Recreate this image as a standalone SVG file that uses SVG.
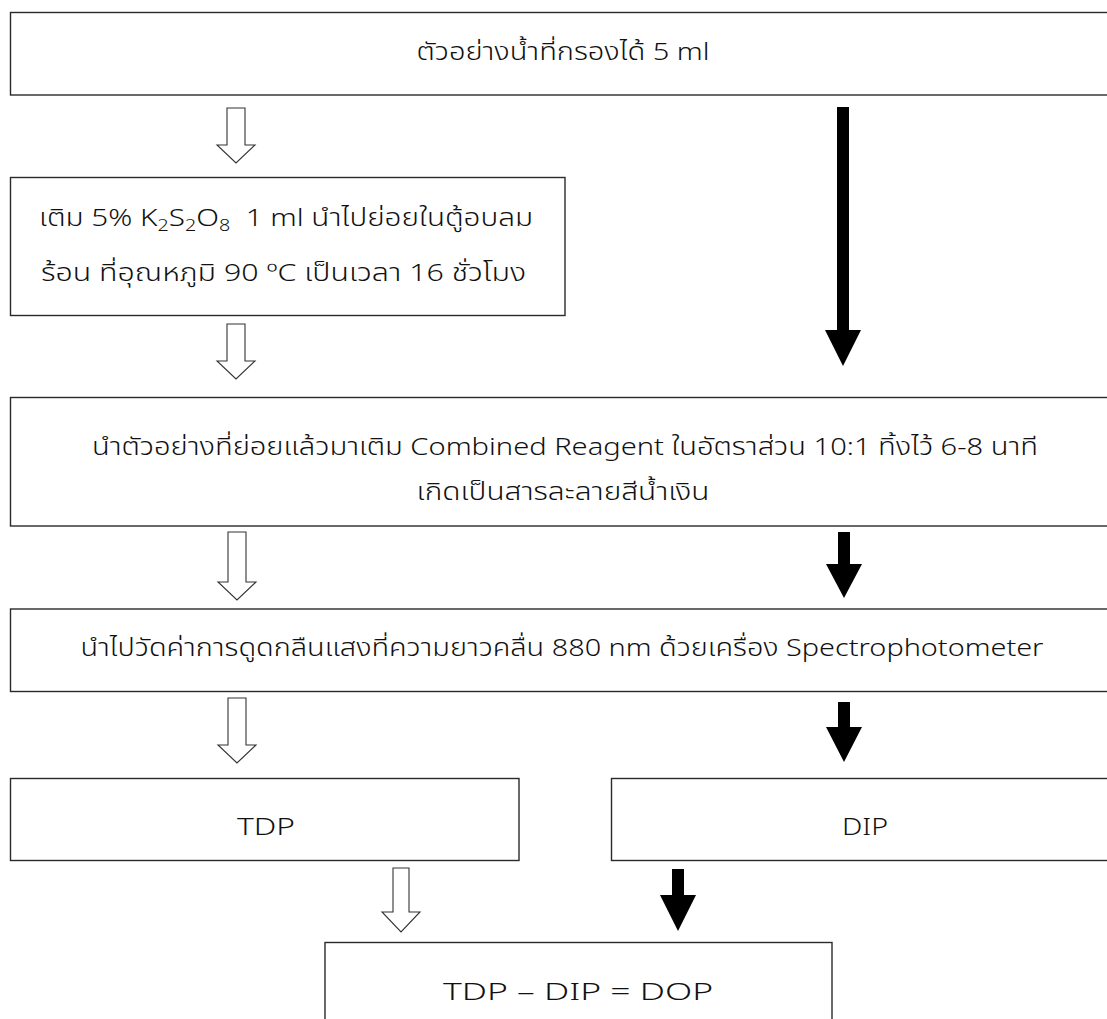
<svg xmlns="http://www.w3.org/2000/svg" width="1107" height="1019" viewBox="0 0 1107 1019">
<style>
.box{fill:#fff;stroke:#2a2a2a;stroke-width:1.4}
.t{font-family:"Noto Sans Thai","Noto Sans","Liberation Sans",sans-serif;font-size:24px;font-weight:300;fill:#111}
.hol{fill:#fff;stroke:#333;stroke-width:1.1;stroke-linejoin:miter}
.blk{fill:#000;stroke:none}
</style>
<rect width="1107" height="1019" fill="#fff"/>
<g id="n1"><rect class="box" x="10.5" y="12.5" width="1106" height="82.5"/>
<text class="t" x="563" y="60" text-anchor="middle" textLength="293" lengthAdjust="spacingAndGlyphs">ตัวอย่างน้ำที่กรองได้ 5 ml</text></g>
<g id="n2"><rect class="box" x="10.5" y="177.5" width="554.5" height="138"/>
<text class="t" x="39" y="226" textLength="494" lengthAdjust="spacingAndGlyphs" xml:space="preserve">เติม 5% K<tspan font-size="16" dy="5">2</tspan><tspan dy="-5">S</tspan><tspan font-size="16" dy="5">2</tspan><tspan dy="-5">O</tspan><tspan font-size="16" dy="5">8</tspan><tspan dy="-5">  1 ml นำไปย่อยในตู้อบลม</tspan></text>
<text class="t" x="41" y="281" textLength="485" lengthAdjust="spacingAndGlyphs">ร้อน ที่อุณหภูมิ 90 ºC เป็นเวลา 16 ชั่วโมง</text></g>
<g id="n3"><rect class="box" x="10.5" y="397.5" width="1106" height="128.5"/>
<text class="t" x="565" y="455" text-anchor="middle" textLength="946" lengthAdjust="spacingAndGlyphs">นำตัวอย่างที่ย่อยแล้วมาเติม Combined Reagent ในอัตราส่วน 10:1 ทิ้งไว้ 6-8 นาที</text>
<text class="t" x="563" y="500" text-anchor="middle" textLength="293" lengthAdjust="spacingAndGlyphs">เกิดเป็นสารละลายสีน้ำเงิน</text></g>
<g id="n4"><rect class="box" x="10.5" y="609" width="1106" height="82.5"/>
<text class="t" x="562" y="656" text-anchor="middle" textLength="963" lengthAdjust="spacingAndGlyphs">นำไปวัดค่าการดูดกลืนแสงที่ความยาวคลื่น 880 nm ด้วยเครื่อง Spectrophotometer</text></g>
<g id="n5"><rect class="box" x="10.5" y="778.5" width="508.5" height="82"/>
<text class="t" x="266" y="835" text-anchor="middle" textLength="58" lengthAdjust="spacingAndGlyphs">TDP</text></g>
<g id="n6"><rect class="box" x="611.5" y="778.5" width="505" height="82"/>
<text class="t" x="865" y="835" text-anchor="middle" textLength="46" lengthAdjust="spacingAndGlyphs">DIP</text></g>
<g id="n7"><rect class="box" x="325" y="942.5" width="507" height="90"/>
<text class="t" x="578" y="1000" text-anchor="middle" textLength="270" lengthAdjust="spacingAndGlyphs">TDP – DIP = DOP</text></g>
<g id="connectors">
<path class="hol" d="M227,108H245V145H255L236,163L217,145H227Z"/>
<path class="hol" d="M227,324H245V361H255L236,379L217,361H227Z"/>
<path class="hol" d="M228,532H246V582H256L237,600L218,582H228Z"/>
<path class="hol" d="M228,698H246V745H256L237,763L218,745H228Z"/>
<path class="hol" d="M393,868H409V912H420L401,932L382,912H393Z"/>
<path class="blk" d="M837,107H849V330H861L843,366L825,330H837Z"/>
<path class="blk" d="M838,532H850V564H862L844,598L826,564H838Z"/>
<path class="blk" d="M838,702H850V727H862L844,762L826,727H838Z"/>
<path class="blk" d="M672,869H684V895H696L678,931L660,895H672Z"/>
</g>
</svg>
